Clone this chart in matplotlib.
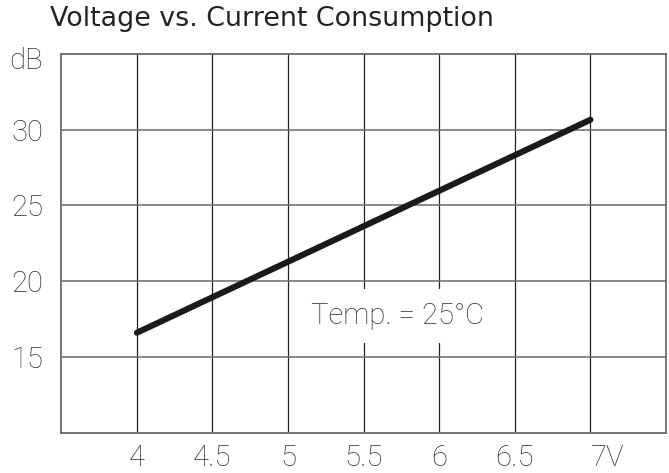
import matplotlib
matplotlib.use("Agg")
import matplotlib.pyplot as plt
from matplotlib.transforms import ScaledTranslation

# Data
voltage = [4.0, 7.0]
gain_db = [16.6, 30.66]
x_ticks = [4, 4.5, 5, 5.5, 6, 6.5, 7]
x_tick_labels = ["4", "4.5", "5", "5.5", "6", "6.5", "7V"]
y_ticks = [15, 20, 25, 30, 35]
y_tick_labels = ["15", "20", "25", "30", "dB"]
title = "Voltage vs. Current Consumption"
note = "Temp. = 25°C"

W, H = 669, 473
fig = plt.figure(figsize=(W / 100, H / 100), dpi=100)
renderer = fig.canvas.get_renderer()


def fit_size(text, family, weight, target_px, base=20.0):
    t = fig.text(0, 0, text, family=family, weight=weight, size=base)
    w = t.get_window_extent(renderer).width
    t.remove()
    return base * target_px / w


tick_family = ["Roboto", "DejaVu Sans"]
tick_size = fit_size("30", tick_family, "light", 32)
note_size = fit_size(note, tick_family, "light", 173)
title_size = fit_size(title, "DejaVu Sans", "normal", 443)

ax = fig.add_axes([61.3 / W, (H - 432.7) / H, (666 - 61.3) / W, (432.7 - 54) / H])
ax.set_xlim(3.5, 7.5)
ax.set_ylim(10, 35)

tick_font = dict(family=tick_family, weight="light", size=tick_size, color="#333333")

for xv in x_ticks:
    ax.axvline(xv, color="#222222", lw=0.9, zorder=1)
for yv in y_ticks[:-1]:
    ax.axhline(yv, color="#6a6a6a", lw=1.1, zorder=1)

ax.plot(voltage, gain_db, color="#1a1a1a", lw=4.4, solid_capstyle="round", zorder=3)

ax.set_xticks(x_ticks)
ax.set_xticklabels(x_tick_labels, fontdict=tick_font)
ax.set_yticks(y_ticks)
ax.set_yticklabels(y_tick_labels, fontdict=tick_font)
ax.tick_params(axis="x", length=0, pad=8)
ax.tick_params(axis="y", length=0, pad=13)
ax.get_xticklabels()[-1].set_ha("left")
db = ax.get_yticklabels()[-1]
db.set_transform(db.get_transform() + ScaledTranslation(0, -4 / 100, fig.dpi_scale_trans))

for s in ax.spines.values():
    s.set_color("#6a6a6a")
    s.set_linewidth(1.3)

ax.text(5.724, 17.7, note, ha="center", va="center", zorder=2,
        fontdict=dict(family=tick_family, weight="light", size=note_size, color="#333333"),
        bbox=dict(facecolor="white", edgecolor="none", pad=9))

fig.text(50 / W, 1 - 26 / H, title, ha="left", va="baseline",
         family="DejaVu Sans", size=title_size, color="#222222")

fig.savefig("out.png", dpi=100)
